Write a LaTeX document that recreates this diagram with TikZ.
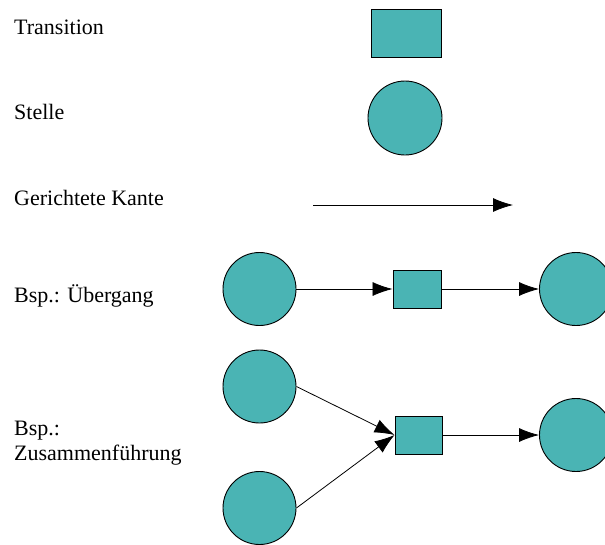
\documentclass[tikz,border=0pt]{standalone}
\usepackage{fontspec}
\setmainfont{Liberation Serif}
\usepackage{tikz}
\usetikzlibrary{arrows.meta}

\definecolor{petrol}{RGB}{74,180,180}

\tikzset{
  stelle/.style={draw, circle, fill=petrol, line width=0.9pt, minimum size=73pt, inner sep=0pt},
  transbox/.style={draw, rectangle, fill=petrol, line width=0.9pt, inner sep=0pt},
  label/.style={anchor=base west, font=\fontsize{22}{27}\selectfont, inner sep=0pt}
}

\begin{document}
\begin{tikzpicture}[x=1pt, y=-1pt]
\useasboundingbox (0,0) rectangle (605,544);
\def \xl {14}

% legend
\node[label] at (\xl,34) (l1) {Transition};
\node[label] at (\xl,119) (l2) {Stelle};
\node[label] at (\xl,205) (l3) {Gerichtete Kante};
\node[label] at (\xl,302) (l4) {Bsp.: \"Ubergang};
\node[label] at (\xl,435) (l5) {Bsp.:};
\node[label] at (\xl,460) (l6) {Zusammenf\"uhrung};

\node[transbox, minimum width=70pt, minimum height=48pt] at (406,33) (t0) {};
\node[stelle, minimum size=74pt] at (405,118) (s0) {};
\coordinate (k1) at (313,205);
\coordinate (k2) at (513,205);
\path[->, >={Latex[length=20pt,width=14pt]}, line width=0.8pt] (k1) edge (k2);

% Uebergang
\node[stelle] at (259.5,289) (s1) {};
\node[transbox, minimum width=48pt, minimum height=38pt] at (417,289) (t1) {};
\node[stelle] at (576,289) (s2) {};
\path[->, >={Latex[length=20pt,width=14pt]}, line width=0.8pt] (s1) edge (t1);
\path[->, >={Latex[length=20pt,width=14pt]}, line width=0.8pt] (t1) edge (s2);

% Zusammenfuehrung
\node[stelle] at (259.5,386.5) (s3) {};
\node[stelle] at (259.5,508) (s4) {};
\node[transbox, minimum width=47pt, minimum height=38pt] at (418.5,435) (t2) {};
\node[stelle] at (576,435) (s5) {};
\path[->, >={Latex[length=20pt,width=14pt]}, line width=0.8pt] (s3.east) edge (t2.west);
\path[->, >={Latex[length=20pt,width=14pt]}, line width=0.8pt] (s4.east) edge (t2.west);
\path[->, >={Latex[length=20pt,width=14pt]}, line width=0.8pt] (t2) edge (s5);

\end{tikzpicture}
\end{document}
